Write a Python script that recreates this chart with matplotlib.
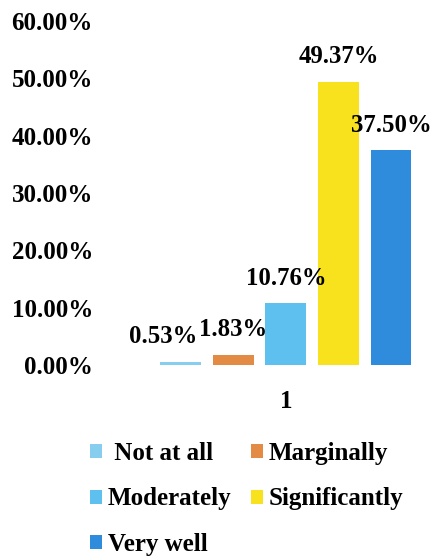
import matplotlib.pyplot as plt
import numpy as np

# Data
categories = ['Not at all', 'Marginally', 'Moderately', 'Significantly', 'Very well']
values = [0.53, 1.83, 10.76, 49.37, 37.50]
colors = ['#86CDF0', '#E38B45', '#5DC0EE', '#F8E21E', '#2F8BDC']
legend_labels = [' Not at all', 'Marginally', 'Moderately', 'Significantly', 'Very well']
label_dx = [-13, 0, 0, 0, 0]   # horizontal nudge of value labels (points)

plt.rcParams['font.family'] = ['Liberation Serif', 'DejaVu Serif']
plt.rcParams['font.weight'] = 'bold'

fig = plt.figure(figsize=(4.38, 5.59), dpi=100)
ax = fig.add_axes([0.228, 0.347, 0.772, 0.6154])

x = np.arange(len(values))
bars = ax.bar(x, values, width=0.78, color=colors)

for xi, v, dx in zip(x, values, label_dx):
    ax.annotate(f'{v:.2f}%', (xi, v), xytext=(dx, 18), textcoords='offset points',
                ha='center', va='center', fontsize=17.8, fontweight='bold')

ax.set_ylim(0, 60)
ax.set_yticks(np.arange(0, 61, 10))
ax.set_yticklabels([f'{t:.2f}%' for t in np.arange(0, 61, 10)])
ax.set_xlim(-1.543, 4.895)
ax.set_xticks([2])
ax.set_xticklabels(['1'])
ax.tick_params(axis='y', length=0, pad=5, labelsize=18)
ax.tick_params(axis='x', length=0, pad=18, labelsize=18)
for s in ax.spines.values():
    s.set_visible(False)

# legend fills row-wise like the original
order = [0, 2, 4, 1, 3]
handles = [bars[i] for i in order]
labels = [legend_labels[i] for i in order]
fig.legend(handles, labels, ncol=2, loc='upper left',
           bbox_to_anchor=(90 / 438, 1 - 442 / 559), frameon=False,
           fontsize=18, handlelength=0.48, handleheight=0.48,
           handletextpad=0.24, columnspacing=0.76, labelspacing=0.9,
           borderpad=0, borderaxespad=0)

fig.savefig('out.png', dpi=100)
